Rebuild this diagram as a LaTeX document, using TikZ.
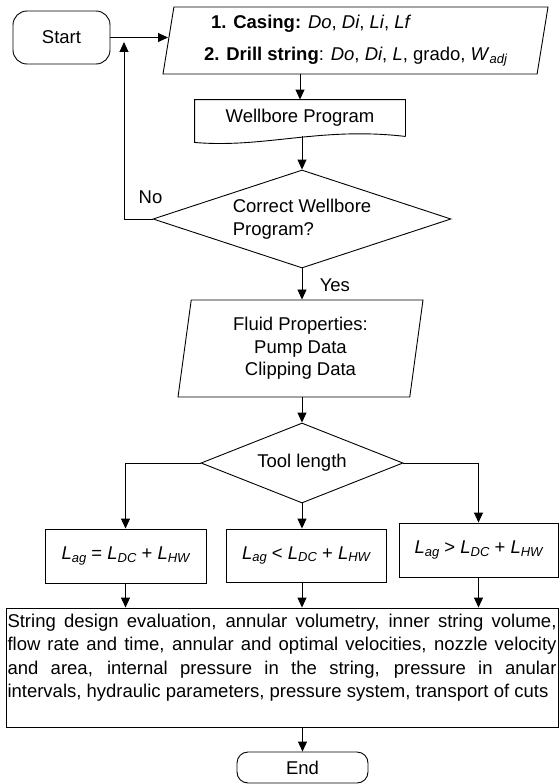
\documentclass[tikz,border=0pt]{standalone}
\usepackage{fontspec}
\setmainfont{Liberation Sans}
\usetikzlibrary{positioning}
\usetikzlibrary{shapes.geometric}
\usetikzlibrary{arrows.meta}
\newcommand{\lsub}[1]{\raisebox{-0.3ex}{\fontsize{13}{13}\selectfont\itshape #1}}

\begin{document}
\begin{tikzpicture}[x=1pt,y=-1pt,line width=0.9pt,>={Triangle[length=10pt,width=9pt]},
  font=\fontsize{18.5}{23.3}\selectfont,
  terminal/.style={draw,rounded corners=14pt,inner sep=0pt},
  io/.style={draw,trapezium,trapezium left angle=78,trapezium right angle=102,trapezium stretches body,inner sep=0pt},
  decision/.style={draw,diamond,inner sep=0pt},
  box/.style={draw,inner sep=0pt}]
  \useasboundingbox (0,0) rectangle (559,784);
  \node[terminal,minimum width=97pt,minimum height=53pt](start) at (61.5,37.5) {Start};
  \node[io,minimum width=385pt,minimum height=67pt,align=left](input) at (355.5,40.5) {\hspace*{7pt}\textbf{1. Casing:} \textit{Do}, \textit{Di}, \textit{Li}, \textit{Lf}\\[9pt]\textbf{2. Drill string}: \textit{Do}, \textit{Di}, \textit{L}, grado, \textit{W}\lsub{adj}};
  \node[minimum width=210pt,minimum height=36pt,inner sep=0pt](well) at (300,118) {Wellbore Program};
  \draw (well.south east) -- (well.north east) -- (well.north west) -- ([yshift=-6pt]well.south west) .. controls +(70,6) and +(-85,-10) .. (well.south east);
  \node[decision,shape aspect=3,minimum width=298pt,minimum height=98pt,align=left](check) at (302,219) {Correct Wellbore\\Program?};
  \node[above=12pt of check.west,xshift=-2pt](no) {No};
  \coordinate (merge) at (124,42);
  \node[io,minimum width=245pt,minimum height=97pt,align=center,font=\fontsize{18.5}{22.5}\selectfont](fluid) at (300.5,348.5) {Fluid Properties:\\Pump Data\\Clipping Data};
  \node[decision,shape aspect=2.5,minimum width=202pt,minimum height=80pt](tool) at (302,463) {Tool length};
  \node[box,minimum width=161pt,minimum height=54pt](equal) at (125.5,556) {\textit{L}\lsub{ag} = \textit{L}\lsub{DC} + \textit{L}\lsub{HW}};
  \node[box,minimum width=160pt,minimum height=53pt](less) at (306,555.5) {\textit{L}\lsub{ag} < \textit{L}\lsub{DC} + \textit{L}\lsub{HW}};
  \node[box,minimum width=159pt,minimum height=54pt](greater) at (478.5,550) {\textit{L}\lsub{ag} > \textit{L}\lsub{DC} + \textit{L}\lsub{HW}};
  \node[box,minimum width=552pt,minimum height=119pt,text width=549pt,align=justify](calc) at (282,667.5) {String design evaluation, annular volumetry, inner string volume,\linebreak flow rate and time, annular and optimal velocities, nozzle velocity\linebreak and area, internal pressure in the string, pressure in anular\linebreak intervals, hydraulic parameters, pressure system, transport of cuts\\\mbox{}};
  \node[terminal,rounded corners=11pt,minimum width=131pt,minimum height=31pt](stop) at (302.5,767.5) {End};
  \draw[->] (start.east) -- (start.east -| input.west);
  \draw[->] (input.south -| well.north) -- (well.north);
  \draw[->] (well.south -| check.north) -- (check.north);
  \draw[->] (check.west) -| (merge);
  \draw[->] (check.south) -- node[right=14pt,pos=0.55](yes){Yes} (check.south |- fluid.north);
  \draw[->] (fluid.south -| tool.north) -- (tool.north);
  \draw[->] (tool.west) -| (equal.north);
  \draw[->] (tool.south) -- (tool.south |- less.north);
  \draw[->] (tool.east) -| (greater.north);
  \draw[->] (equal.south) -- (equal.south |- calc.north);
  \draw[->] (tool.south |- less.south) -- (tool.south |- calc.north);
  \draw[->] (greater.south) -- (greater.south |- calc.north);
  \draw[->] (calc.south -| stop.north) -- (stop.north);
\end{tikzpicture}
\end{document}
